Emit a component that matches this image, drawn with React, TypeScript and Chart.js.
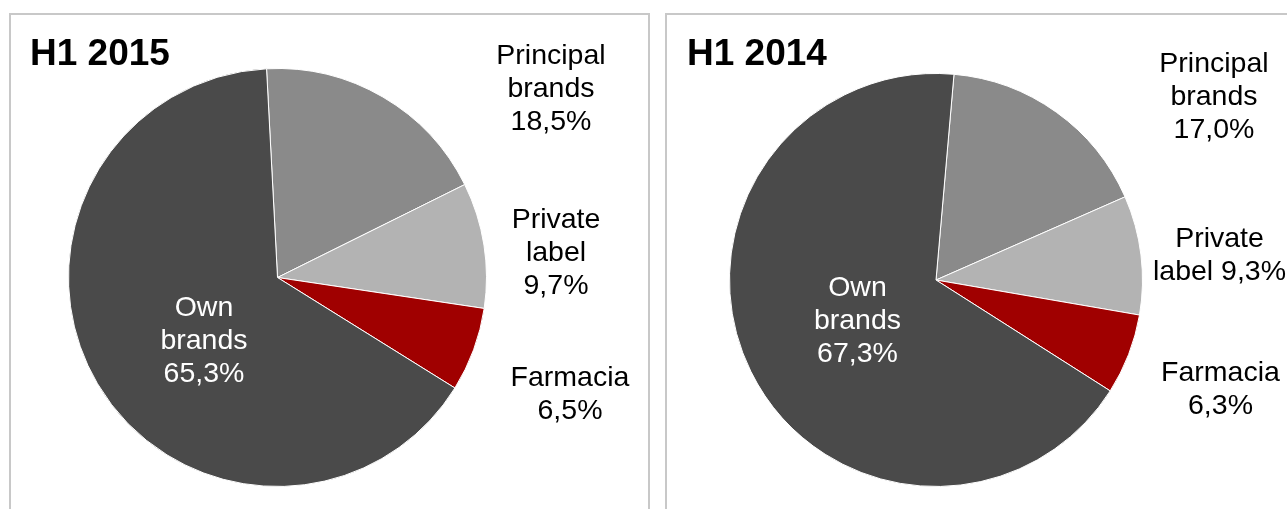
import React, { useEffect, useRef } from 'react';
import { Chart, ArcElement, PieController } from 'chart.js';

Chart.register(ArcElement, PieController);

// ---- data ----
const categories = ['Principal brands', 'Private label', 'Farmacia', 'Own brands'];
const categoryLines = [['Principal', 'brands'], ['Private', 'label'], ['Farmacia'], ['Own', 'brands']];
const values2015 = [18.5, 9.7, 6.5, 65.3];
const values2014 = [17.0, 9.3, 6.3, 67.3];
const title2015 = 'H1 2015';
const title2014 = 'H1 2014';
const sliceColors = ['#8a8a8a', '#b3b3b3', '#a00000', '#4a4a4a'];

const FONT = '"Liberation Sans", Arial, Helvetica, sans-serif';

const fmt = (v: number) => v.toFixed(1).replace('.', ',') + '%';

const labelPlugin = {
  id: 'sliceLabels',
  afterDatasetsDraw(chart: any, _args: any, opts: any) {
    const ctx = chart.ctx as CanvasRenderingContext2D;
    const meta = chart.getDatasetMeta(0);
    const arc0 = meta.data[0] as any;
    if (!arc0) return;
    const cx = arc0.x;
    const cy = arc0.y;
    const values = chart.data.datasets[0].data as number[];
    ctx.save();
    ctx.textAlign = 'center';
    ctx.textBaseline = 'alphabetic';
    ctx.font = `${opts.fontSize}px ${FONT}`;
    values.forEach((v, i) => {
      const lines = [...categoryLines[i]];
      const pct = fmt(v);
      if (opts.mergeValue[i]) lines[lines.length - 1] += ' ' + pct;
      else lines.push(pct);
      const [dx, dy] = opts.offsets[i];
      ctx.fillStyle = opts.textColors[i];
      lines.forEach((ln: string, k: number) => {
        ctx.fillText(ln, cx + dx, cy + dy + k * opts.lineHeight);
      });
    });
    ctx.font = `bold ${opts.titleSize}px ${FONT}`;
    ctx.textAlign = 'left';
    ctx.fillStyle = '#000000';
    ctx.fillText(opts.title, opts.titleX, opts.titleY);
    ctx.restore();
  },
};

type PieProps = {
  values: number[];
  left: number;
  width: number;
  rotation: number;
  padding: { left: number; top: number; right: number; bottom: number };
  labelOpts: any;
};

function PieChart({ values, left, width, rotation, padding, labelOpts }: PieProps) {
  const ref = useRef<HTMLCanvasElement | null>(null);
  useEffect(() => {
    if (!ref.current) return;
    const chart = new Chart(ref.current, {
      type: 'pie',
      data: {
        labels: categories,
        datasets: [
          {
            data: values,
            backgroundColor: sliceColors,
            borderColor: '#ffffff',
            borderWidth: 1,
          },
        ],
      },
      options: {
        responsive: false,
        animation: false,
        devicePixelRatio: 1,
        rotation,
        layout: { padding },
        plugins: {
          legend: { display: false },
          tooltip: { enabled: false },
          sliceLabels: labelOpts,
        } as any,
      },
      plugins: [labelPlugin as any],
    });
    return () => chart.destroy();
  }, []);
  return (
    <canvas
      ref={ref}
      width={width}
      height={509}
      style={{ position: 'absolute', left, top: 0, width, height: 509, display: 'block' }}
    />
  );
}

export default function App() {
  return (
    <div
      style={{
        position: 'absolute',
        left: 0,
        top: 0,
        width: 1287,
        height: 509,
        overflow: 'hidden',
        background: '#ffffff',
      }}
    >
      <div
        style={{
          position: 'absolute',
          left: 9,
          top: 13,
          width: 641,
          height: 520,
          boxSizing: 'border-box',
          border: '2px solid #c8c8c8',
        }}
      />
      <div
        style={{
          position: 'absolute',
          left: 665,
          top: 13,
          width: 700,
          height: 520,
          boxSizing: 'border-box',
          border: '2px solid #c8c8c8',
        }}
      />
      <PieChart
        values={values2015}
        left={0}
        width={650}
        rotation={-3}
        padding={{ left: 68, top: 68, right: 163, bottom: 22 }}
        labelOpts={{
          fontSize: 28.5,
          lineHeight: 33,
          offsets: [
            [273.5, -214],
            [278.5, -50],
            [292.5, 108.5],
            [-73.5, 38.5],
          ],
          mergeValue: [false, false, false, false],
          textColors: ['#000000', '#000000', '#000000', '#ffffff'],
          title: title2015,
          titleSize: 37,
          titleX: 30,
          titleY: 65,
        }}
      />
      <PieChart
        values={values2014}
        left={655}
        width={632}
        rotation={5}
        padding={{ left: 74, top: 73, right: 144, bottom: 22 }}
        labelOpts={{
          fontSize: 28.5,
          lineHeight: 33,
          offsets: [
            [278, -208],
            [283.5, -33],
            [284.5, 100.7],
            [-78.5, 15.7],
          ],
          mergeValue: [false, true, false, false],
          textColors: ['#000000', '#000000', '#000000', '#ffffff'],
          title: title2014,
          titleSize: 37,
          titleX: 32,
          titleY: 65,
        }}
      />
    </div>
  );
}
